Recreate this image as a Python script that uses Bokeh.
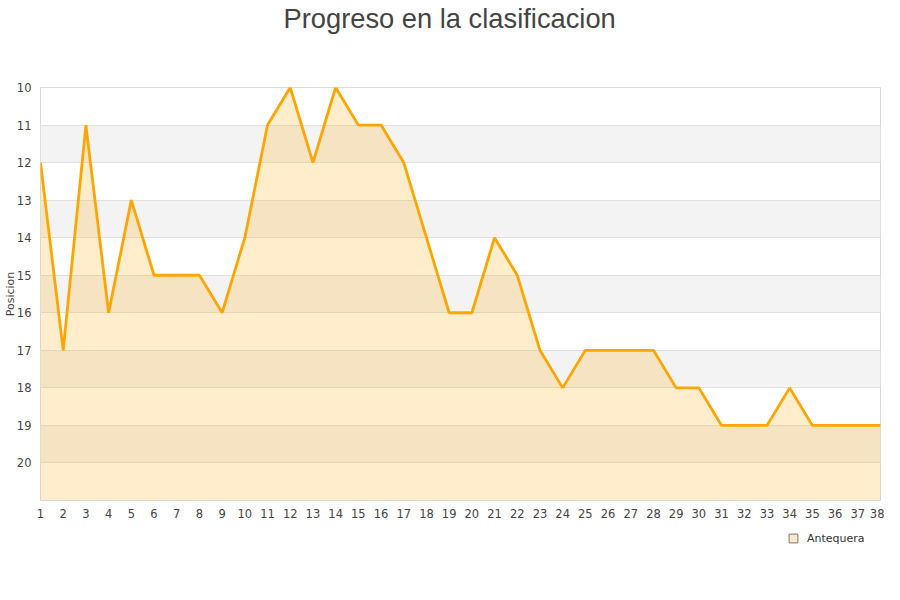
from bokeh.plotting import figure
from bokeh.layouts import column
from bokeh.models import Range1d, FixedTicker, Legend, LegendItem, Title
from bokeh.embed import file_html
from bokeh.resources import INLINE

# ---- data ----
jornadas = list(range(1, 39))
posiciones = [12, 17, 11, 16, 13, 15, 15, 15, 16, 14, 11, 10, 12, 10, 11, 11, 12, 14, 16, 16,
              14, 15, 17, 18, 17, 17, 17, 17, 18, 18, 19, 19, 19, 18, 19, 19, 19, 19]
team = "Antequera"
title_text = "Progreso en la clasificacion"
y_label = "Posicion"
y_ticks = list(range(10, 21))
x_ticks = list(range(1, 39))
y_top = 10
y_bottom = 21

p = figure(width=884, height=526, output_backend="svg", toolbar_location=None,
           x_range=Range1d(1, 38), y_range=Range1d(y_bottom, y_top),
           min_border_left=40, min_border_right=4, min_border_top=0, min_border_bottom=26)
p.title = None

p.background_fill_color = "white"
p.border_fill_color = "white"
p.outline_line_color = "#d9d9d9"
p.outline_line_width = 1

# spacer title (closest to frame), then the real title
p.add_layout(Title(text=" ", text_font_size="30px", standoff=19), "above")
p.add_layout(Title(text=title_text, align="left", offset=243,
                   text_font="Liberation Sans", text_font_size="27.3px",
                   text_font_style="normal", text_color="#444444", standoff=0), "above")

# area + line
p.varea(x=jornadas, y1=posiciones, y2=[y_bottom] * len(jornadas),
        fill_color="#ffa500", fill_alpha=0.2)
p.line(x=jornadas, y=posiciones, line_color="#ffa500", line_width=2.8)

# axes
for ax in (p.xaxis, p.yaxis):
    ax.axis_line_color = None
    ax.major_tick_line_color = None
    ax.minor_tick_line_color = None
    ax.major_tick_out = 0
    ax.major_tick_in = 0
    ax.minor_tick_out = 0
    ax.minor_tick_in = 0
    ax.major_label_text_font = "DejaVu Sans"
    ax.major_label_text_font_size = "11.5px"
    ax.major_label_text_color = "#444444"
p.xaxis.ticker = FixedTicker(ticks=x_ticks)
p.yaxis.ticker = FixedTicker(ticks=y_ticks)
p.xaxis.major_label_standoff = 8
p.yaxis.major_label_standoff = 9
p.yaxis.axis_label = y_label
p.yaxis.axis_label_standoff = -3
p.yaxis.axis_label_text_font = "DejaVu Sans"
p.yaxis.axis_label_text_font_size = "11px"
p.yaxis.axis_label_text_font_style = "normal"
p.yaxis.axis_label_text_color = "#444444"

# grid
p.xgrid.visible = False
p.ygrid.grid_line_color = "#e0e0e0"
p.ygrid.band_fill_color = "#f3f3f3"
p.ygrid.band_fill_alpha = 1.0

# legend strip below the chart
p2 = figure(width=884, height=58, output_backend="svg", toolbar_location=None,
            x_range=Range1d(0, 1), y_range=Range1d(0, 1),
            x_axis_location=None, y_axis_location=None,
            min_border_left=40, min_border_right=4, min_border_top=0, min_border_bottom=0)
p2.title = None
p2.outline_line_color = None
p2.xgrid.visible = False
p2.ygrid.visible = False
# legend key glyph, kept outside the visible range of the strip
sq = p2.scatter(x=[-1], y=[-1], marker="square", size=10, fill_color="#ffe9c4",
                line_color="#777777", line_width=1)
legend = Legend(items=[LegendItem(label=team, renderers=[sq])], location=(742, 35),
                orientation="horizontal", margin=0, padding=0,
                glyph_width=22, glyph_height=22, label_height=22, label_standoff=3,
                label_text_font="DejaVu Sans", label_text_font_size="11px",
                label_text_color="#333333", border_line_color=None,
                background_fill_alpha=0)
p2.add_layout(legend, "center")

layout = column(p, p2, spacing=0)
open("out.html", "w").write(file_html(layout, INLINE))
